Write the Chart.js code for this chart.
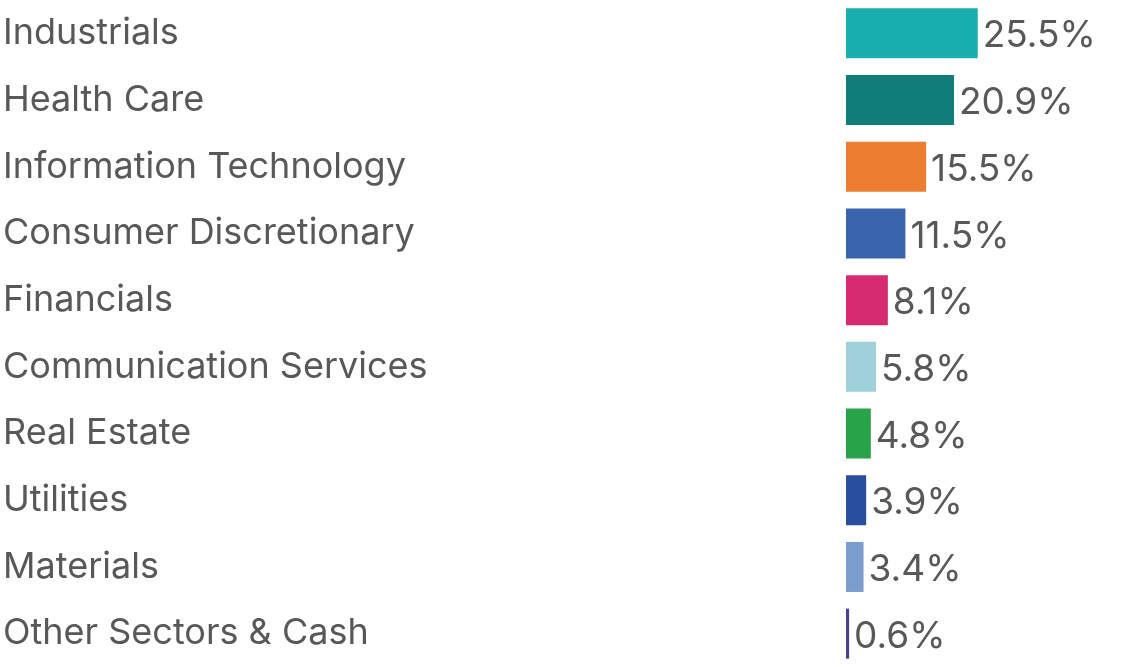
<!DOCTYPE html>
<html>
<head>
<meta charset="utf-8">
<script src="https://cdn.jsdelivr.net/npm/chart.js@4/dist/chart.umd.min.js"></script>
<style>
  html, body { margin: 0; padding: 0; background: #fff; }
  #wrap { width: 1125px; height: 667px; position: relative; }
</style>
</head>
<body>
<div id="wrap"><canvas id="sectors"></canvas></div>
<script>
const sectors = ['Industrials', 'Health Care', 'Information Technology', 'Consumer Discretionary', 'Financials',
  'Communication Services', 'Real Estate', 'Utilities', 'Materials', 'Other Sectors & Cash'];
const weights = [25.5, 20.9, 15.5, 11.5, 8.1, 5.8, 4.8, 3.9, 3.4, 0.6];
const barColors = ['#1aafaf', '#117d78', '#ed7d31', '#3a64ad', '#d62b70',
  '#9fd1db', '#28a34a', '#2a4e9e', '#7b9ecf', '#4e3f8e'];

const FONT = 'Inter, "Noto Sans", sans-serif';
const TEXT = '#58585a';

const valueLabels = {
  id: 'valueLabels',
  afterDatasetsDraw(chart) {
    const ctx = chart.ctx;
    const meta = chart.getDatasetMeta(0);
    ctx.save();
    ctx.font = '37px ' + FONT;
    ctx.fillStyle = TEXT;
    ctx.textAlign = 'left';
    ctx.textBaseline = 'middle';
    meta.data.forEach((bar, i) => {
      ctx.fillText(weights[i].toFixed(1) + '%', bar.x + 5, bar.y + 3);
    });
    ctx.restore();
  }
};

new Chart(document.getElementById('sectors'), {
  type: 'bar',
  data: {
    labels: sectors,
    datasets: [{
      data: weights,
      backgroundColor: barColors,
      barPercentage: 0.75,
      categoryPercentage: 1,
      minBarLength: 2
    }]
  },
  options: {
    indexAxis: 'y',
    responsive: true,
    maintainAspectRatio: false,
    animation: false,
    layout: { padding: { left: 3, right: 0, top: 0, bottom: 0 } },
    plugins: { legend: { display: false }, tooltip: { enabled: false } },
    scales: {
      x: { display: false, min: 0, max: 54 },
      y: {
        grid: { display: false },
        border: { display: false },
        afterFit(scale) {
          scale.width = 843;
          scale.paddingTop = 0;
          scale.paddingBottom = 0;
        },
        ticks: {
          crossAlign: 'far',
          color: TEXT,
          font: { family: FONT, size: 36 },
          padding: 0
        }
      }
    }
  },
  plugins: [valueLabels]
});
</script>
</body>
</html>
